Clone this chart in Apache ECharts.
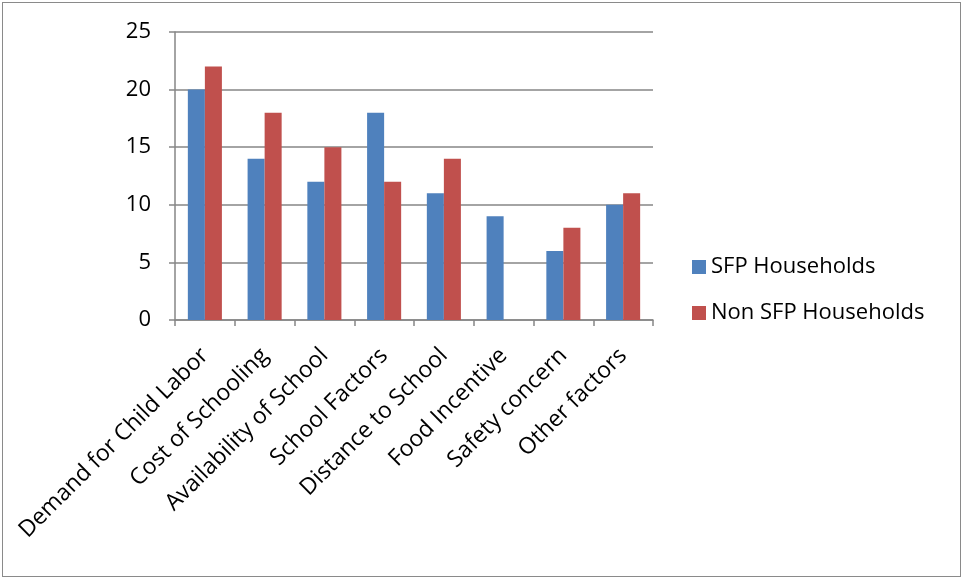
<!DOCTYPE html>
<html>
<head>
<meta charset="utf-8">
<script src="https://cdn.jsdelivr.net/npm/echarts@6/dist/echarts.min.js"></script>
<style>
  html, body { margin: 0; padding: 0; background: #fff; }
  #main { position: absolute; left: 2px; top: 2px; width: 957px; height: 573px; border: 1.5px solid #8a8a8a; }
</style>
</head>
<body>
<div id="main"></div>
<script>
// categories and values
const categories = [
  "Demand for Child Labor", "Cost of Schooling", "Availability of School", "School Factors",
  "Distance to School", "Food Incentive", "Safety concern", "Other factors"
];
const sfpHouseholds = [20, 14, 12, 18, 11, 9, 6, 10];
const nonSfpHouseholds = [22, 18, 15, 12, 14, null, 8, 11];

const axisGrey = "#868686";
const font = "Open Sans";

const chart = echarts.init(document.getElementById("main"));
const option = {
  animation: false,
  textStyle: { fontFamily: font },
  grid: { left: 172, top: 29, width: 478, height: 288 },
  legend: {
    orient: "vertical",
    left: 684,
    top: 248,
    itemWidth: 14,
    itemHeight: 14,
    itemGap: 24,
    icon: "rect",
    textStyle: { fontSize: 22, color: "#000", fontFamily: font },
    data: ["SFP Households", "Non SFP Households"]
  },
  xAxis: {
    type: "category",
    data: categories,
    axisLine: { lineStyle: { color: axisGrey, width: 1.5 } },
    axisTick: { show: true, length: 6, lineStyle: { color: axisGrey, width: 1.5 } },
    axisLabel: { rotate: 45, fontSize: 23, color: "#000", margin: 32, interval: 0 }
  },
  yAxis: {
    type: "value",
    min: 0,
    max: 25,
    interval: 5,
    axisLine: { show: true, lineStyle: { color: axisGrey, width: 1.5 } },
    axisTick: { show: true, length: 6, lineStyle: { color: axisGrey, width: 1.5 } },
    axisLabel: { fontSize: 22, color: "#000", margin: 24 },
    splitLine: { lineStyle: { color: axisGrey, width: 1.5 } }
  },
  series: [
    {
      name: "SFP Households",
      type: "bar",
      data: sfpHouseholds,
      barGap: "0%",
      barCategoryGap: "43%",
      itemStyle: { color: "#4F81BD" }
    },
    {
      name: "Non SFP Households",
      type: "bar",
      data: nonSfpHouseholds,
      itemStyle: { color: "#C0504D" }
    }
  ]
};
chart.setOption(option);
</script>
</body>
</html>
